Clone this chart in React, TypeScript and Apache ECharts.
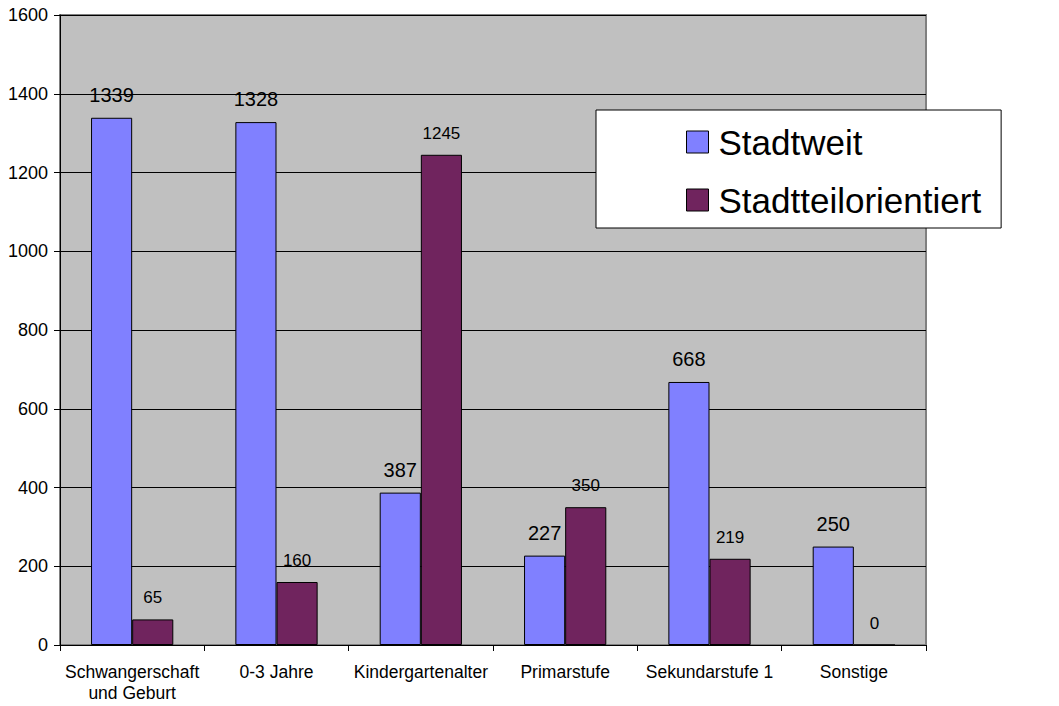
import React, { useEffect, useRef } from "react";
import * as echarts from "echarts";

const categories = [
  "Schwangerschaft\nund Geburt",
  "0-3 Jahre",
  "Kindergartenalter",
  "Primarstufe",
  "Sekundarstufe 1",
  "Sonstige",
];
const stadtweit = [1339, 1328, 387, 227, 668, 250];
const stadtteilorientiert = [65, 160, 1245, 350, 219, 0];
const seriesNames = ["Stadtweit", "Stadtteilorientiert"];
const yTicks = { min: 0, max: 1600, interval: 200 };

const FONT = 'Arial, "Liberation Sans", sans-serif';

export default function App() {
  const ref = useRef<HTMLDivElement>(null);
  useEffect(() => {
    if (!ref.current) return;
    const chart = echarts.init(ref.current, null, { renderer: "svg" });
    chart.setOption({
      animation: false,
      backgroundColor: "#ffffff",
      textStyle: { fontFamily: FONT },
      grid: {
        left: 60,
        right: 133,
        top: 15,
        bottom: 61,
        show: true,
        backgroundColor: "#C0C0C0",
        borderColor: "#808080",
        borderWidth: 2,
      },
      legend: {
        orient: "vertical",
        left: 596,
        top: 110,
        padding: [12, 20, 8, 90],
        itemGap: 18,
        itemWidth: 22,
        itemHeight: 22,
        icon: "rect",
        backgroundColor: "#ffffff",
        borderColor: "#000000",
        borderWidth: 1,
        borderRadius: 0,
        itemStyle: { borderColor: "#000000", borderWidth: 1 },
        textStyle: {
          fontFamily: FONT,
          fontSize: 35,
          color: "#000000",
          lineHeight: 40,
          padding: [0, 0, 0, 5],
        },
        data: seriesNames,
      },
      xAxis: {
        type: "category",
        data: categories,
        axisLine: { show: true, lineStyle: { color: "#000000", width: 1 } },
        axisTick: { show: true, length: 6, lineStyle: { color: "#000000" } },
        axisLabel: {
          color: "#000000",
          fontFamily: FONT,
          fontSize: 17.5,
          lineHeight: 21,
          margin: 16,
          interval: 0,
        },
        splitLine: { show: false },
      },
      yAxis: {
        type: "value",
        min: yTicks.min,
        max: yTicks.max,
        interval: yTicks.interval,
        axisLine: { show: true, lineStyle: { color: "#000000", width: 1 } },
        axisTick: { show: true, length: 6, lineStyle: { color: "#000000" } },
        axisLabel: {
          color: "#000000",
          fontFamily: FONT,
          fontSize: 18,
          margin: 12,
          formatter: (v: number) => String(v),
        },
        splitLine: { show: true, lineStyle: { color: "#000000", width: 1 } },
      },
      series: [
        {
          name: seriesNames[0],
          type: "bar",
          data: stadtweit,
          barGap: "0%",
          barCategoryGap: "43%",
          itemStyle: { color: "#8080FF", borderColor: "#000000", borderWidth: 1 },
          label: {
            show: true,
            position: "top",
            distance: 13,
            color: "#000000",
            fontFamily: FONT,
            fontSize: 20,
          },
        },
        {
          name: seriesNames[1],
          type: "bar",
          data: stadtteilorientiert,
          barGap: "0%",
          barCategoryGap: "43%",
          itemStyle: { color: "#70245E", borderColor: "#000000", borderWidth: 1 },
          label: {
            show: true,
            position: "top",
            distance: 13,
            color: "#000000",
            fontFamily: FONT,
            fontSize: 17,
          },
        },
      ],
    });
    return () => chart.dispose();
  }, []);
  return (
    <div
      ref={ref}
      style={{ position: "fixed", left: 0, top: 0, width: 1059, height: 706, background: "#fff" }}
    />
  );
}
